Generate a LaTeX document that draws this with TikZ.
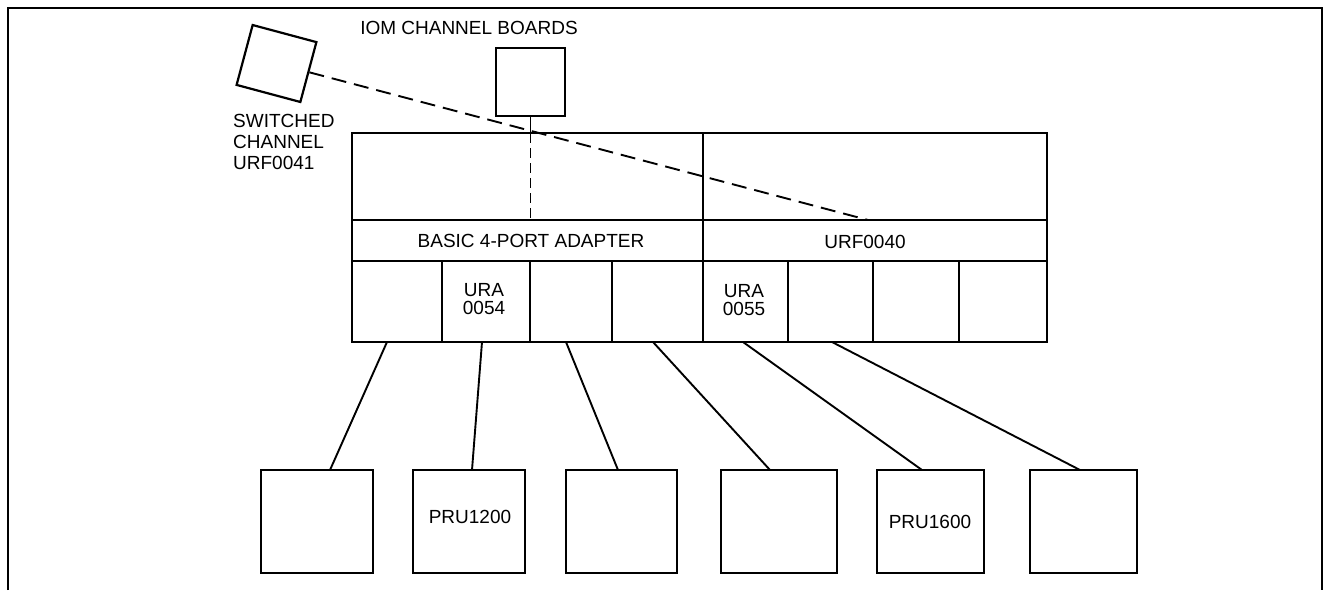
\documentclass[tikz,border=0pt]{standalone}
\usepackage{fontspec}
\setmainfont{Liberation Sans}
\usetikzlibrary{calc}
\begin{document}
\begin{tikzpicture}[x=1pt,y=-1pt,
  box/.style={draw,line width=2.2pt,inner sep=0pt,outer sep=0pt,anchor=north west},
  lbl/.style={inner sep=0pt,font=\fontsize{19}{18}\selectfont,align=center},
  wire/.style={line width=1.9pt},
  dash1/.style={line width=1.9pt,dash pattern=on 15pt off 8pt},
  dash2/.style={line width=1.9pt,dash pattern=on 10pt off 5pt}]
\useasboundingbox (0,0) rectangle (1324,590);
% frame
\draw[line width=1.6pt] (8,590) -- (8,8) -- (1322,8) -- (1322,590);
% IOM channel board
\node[box,minimum width=69pt,minimum height=68pt] (iom) at (496,48) {};
\node[lbl] (iomt) at (469,28) {IOM CHANNEL BOARDS};
% switched channel
\node[draw,line width=2.2pt,inner sep=0pt,minimum width=66pt,minimum height=62pt,rotate=-15] (sw) at (276.5,63.5) {};
\node[lbl,align=left,anchor=north west,font=\fontsize{19}{21}\selectfont] (swt) at (233,114.2) {SWITCHED\\CHANNEL\\URF0041};
% main box
\node[box,minimum width=351pt,minimum height=87pt] (tl) at (352,133) {};
\node[box,minimum width=344pt,minimum height=87pt] (tr) at (703,133) {};
\node[box,minimum width=351pt,minimum height=41pt] (bl) at (352,220) {};
\node[box,minimum width=344pt,minimum height=41pt] (br) at (703,220) {};
\node[lbl] (blt) at (531,240.5) {BASIC 4-PORT ADAPTER};
\node[lbl] (brt) at (865,241.5) {URF0040};
\node[box,minimum width=90pt,minimum height=81pt] (p1) at (352,261) {};
\node[box,minimum width=88pt,minimum height=81pt] (p2) at (442,261) {};
\node[box,minimum width=82pt,minimum height=81pt] (p3) at (530,261) {};
\node[box,minimum width=91pt,minimum height=81pt] (p4) at (612,261) {};
\node[box,minimum width=85pt,minimum height=81pt] (p5) at (703,261) {};
\node[box,minimum width=85pt,minimum height=81pt] (p6) at (788,261) {};
\node[box,minimum width=86pt,minimum height=81pt] (p7) at (873,261) {};
\node[box,minimum width=88pt,minimum height=81pt] (p8) at (959,261) {};
\node[lbl] (p2t) at (484,299.5) {URA\\0054};
\node[lbl] (p5t) at (744,300.5) {URA\\0055};
% bottom boxes
\node[box,minimum width=112pt,minimum height=103pt] (b1) at (261,470) {};
\node[box,minimum width=112pt,minimum height=103pt] (b2) at (413,470) {};
\node[box,minimum width=111pt,minimum height=103pt] (b3) at (566,470) {};
\node[box,minimum width=116pt,minimum height=103pt] (b4) at (721,470) {};
\node[box,minimum width=107pt,minimum height=103pt] (b5) at (877,470) {};
\node[box,minimum width=107pt,minimum height=103pt] (b6) at (1030,470) {};
\node[lbl] (b2t) at (470,517) {PRU1200};
\node[lbl] (b5t) at (930,522) {PRU1600};
% connectors
\draw[wire] ([xshift=-10pt]p1.south) -- ([xshift=13pt]b1.north);
\draw[wire] ([xshift=-4pt]p2.south) -- ([xshift=3pt]b2.north);
\draw[wire] ([xshift=-5pt]p3.south) -- ([xshift=-3.5pt]b3.north);
\draw[wire] ([xshift=-4.5pt]p4.south) -- ([xshift=-9pt]b4.north);
\draw[wire] ([xshift=-2.5pt]p5.south) -- ([xshift=-8.5pt]b5.north);
\draw[wire] ([xshift=1.5pt]p6.south) -- ([xshift=-3.5pt]b6.north);
% IOM link
\draw[wire] (iom.south) -- (iom.south |- tl.north);
\draw[dash2] (iom.south |- tl.north) -- (iom.south |- tl.south);
% switched channel link
\draw[dash1] (sw.east) -- ([xshift=-7pt]tr.south);
\end{tikzpicture}
\end{document}
